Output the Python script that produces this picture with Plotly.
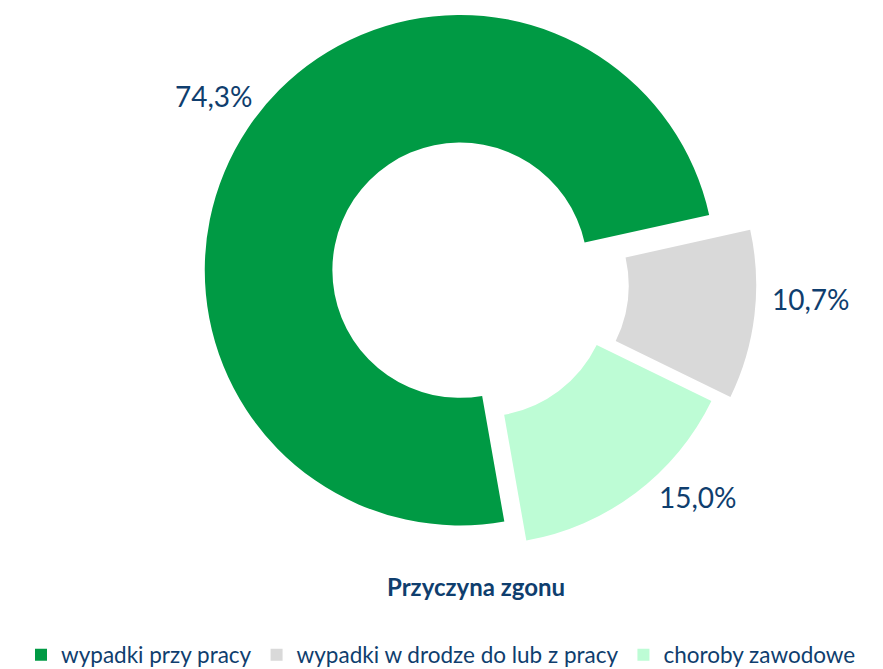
import plotly.graph_objects as go

# ---- data ----
categories = ["wypadki przy pracy", "wypadki w drodze do lub z pracy", "choroby zawodowe"]
values = [74.3, 10.7, 15.0]
colors = ["#009A44", "#D9D9D9", "#BDFCD5"]
title_text = "Przyczyna zgonu"

# ---- layout constants (pixels, page coordinates) ----
W, H = 883, 669
OFF = 8          # default page margin around the plot div
R = 256          # outer radius in px
centers = [(460, 271), (501, 286), (482, 290)]      # exploded slice centres
label_pos = [(214, 96), (811, 300), (698, 498)]      # data-label centres
TXT = "#0F3E6E"
FONT = "Lato"


def px(x, y):
    return (x - OFF) / W, 1 - (y - OFF) / H


def dom(cx, cy):
    x0, y1 = px(cx - R, cy - R)
    x1, y0 = px(cx + R, cy + R)
    return dict(x=[x0, x1], y=[y0, y1])


def fmt(v):
    return f"{v:.1f}".replace(".", ",") + "%"


fig = go.Figure()
for i, (cx, cy) in enumerate(centers):
    cols = [c if j == i else "rgba(0,0,0,0)" for j, c in enumerate(colors)]
    fig.add_trace(go.Pie(
        labels=categories, values=values, sort=False, direction="clockwise",
        rotation=170, hole=0.5, domain=dom(cx, cy),
        marker=dict(colors=cols, line=dict(width=0)),
        textinfo="none", hoverinfo="label+percent", showlegend=False,
    ))
    lx, ly = px(*label_pos[i])
    fig.add_annotation(text=fmt(values[i]), x=lx, y=ly, xref="paper", yref="paper",
                       xanchor="center", yanchor="middle", showarrow=False,
                       font=dict(family=FONT, size=28, color=TXT))

# legend carrier (tiny pie, not visible)
fig.add_trace(go.Pie(
    labels=categories, values=values, sort=False,
    marker=dict(colors=colors, line=dict(width=0)),
    textinfo="none", domain=dict(x=[0, 0.0001], y=[0, 0.0001]),
    hoverinfo="skip", showlegend=True,
))

tx, ty = px(476, 588)
fig.add_annotation(text=f"<b>{title_text}</b>", x=tx, y=ty,
                   xref="paper", yref="paper", xanchor="center", yanchor="middle",
                   showarrow=False, font=dict(family=FONT, size=24, color=TXT))

lgx, lgy = px(441, 657)
fig.update_layout(
    width=W, height=H, margin=dict(l=0, r=0, t=0, b=0),
    paper_bgcolor="white", plot_bgcolor="white",
    legend=dict(orientation="h", x=lgx, xanchor="center", y=lgy, yanchor="middle",
                font=dict(family=FONT, size=22.5, color=TXT), traceorder="normal"),
)

fig.write_html("out.html")
